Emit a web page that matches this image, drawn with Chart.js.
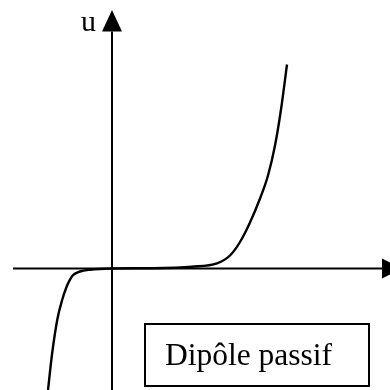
<!DOCTYPE html>
<html>
<head>
<meta charset="utf-8">
<script src="https://cdn.jsdelivr.net/npm/chart.js@4"></script>
<style>
  html, body { margin:0; padding:0; background:#fff; }
  #wrap { position:relative; width:390px; height:390px; overflow:hidden; }
  #chart { position:absolute; left:0; top:0; }
  .lbl { position:absolute; font-family:"Liberation Serif","DejaVu Serif",serif; color:#000; white-space:nowrap; }
  #ulabel { left:81px; top:4px; font-size:30px; }
  #box { left:144px; top:323px; width:203px; height:60px; border:2px solid #000; font-size:31.5px; line-height:60px; padding-left:19px; box-sizing:content-box; }
</style>
</head>
<body>
<div id="wrap">
  <canvas id="chart" width="390" height="390"></canvas>
  <div class="lbl" id="ulabel">u</div>
  <div class="lbl" id="box">Dipôle passif</div>
</div>
<script>
// characteristic u = f(i) (arbitrary units)
const curI = [-6.4, -6.0, -5.47, -5.0, -4.53, -4.2, -3.9, -3.2, -2.2, 0,
              4.0, 8.0, 10.5, 11.8, 12.8, 13.8, 14.8, 15.6, 16.3, 16.9, 17.5];
const volU = [-12.15, -8.6, -5.1, -3.2, -1.8, -1.12, -0.67, -0.3, -0.12, 0,
              0.03, 0.18, 0.52, 1.3, 2.65, 4.6, 7.0, 9.3, 12.3, 15.9, 20.4];

// axis extents (same units)
const xRange = [-11.2, 27.8];
const yRange = [-12.15, 26.85];
const xAxisStart = -9.9, xArrowBase = 27.0, xArrowTip = 29.0;
const yArrowBase = 23.7, yArrowTip = 25.85;

const axesPlugin = {
  id: 'axes',
  beforeDatasetsDraw(chart){
    const {ctx, scales:{x, y}} = chart;
    const x0 = x.getPixelForValue(0), y0 = y.getPixelForValue(0);
    ctx.save();
    ctx.strokeStyle = '#000'; ctx.fillStyle = '#000'; ctx.lineWidth = 2;
    // horizontal axis
    ctx.beginPath();
    ctx.moveTo(x.getPixelForValue(xAxisStart), y0);
    ctx.lineTo(x.getPixelForValue(xArrowBase), y0);
    ctx.stroke();
    const hb = x.getPixelForValue(xArrowBase), ht = x.getPixelForValue(xArrowTip);
    ctx.beginPath();
    ctx.moveTo(hb, y0 - 10); ctx.lineTo(ht, y0); ctx.lineTo(hb, y0 + 10); ctx.closePath(); ctx.fill();
    // vertical axis
    ctx.beginPath();
    ctx.moveTo(x0, y.getPixelForValue(yRange[0]));
    ctx.lineTo(x0, y.getPixelForValue(yArrowBase));
    ctx.stroke();
    const vb = y.getPixelForValue(yArrowBase), vt = y.getPixelForValue(yArrowTip);
    ctx.beginPath();
    ctx.moveTo(x0 - 10, vb); ctx.lineTo(x0, vt); ctx.lineTo(x0 + 10, vb); ctx.closePath(); ctx.fill();
    ctx.restore();
  }
};

new Chart(document.getElementById('chart').getContext('2d'), {
  type: 'scatter',
  data: {
    datasets: [{
      data: curI.map((v, k) => ({x: v, y: volU[k]})),
      showLine: true,
      borderColor: '#000',
      borderWidth: 2.4,
      pointRadius: 0,
      cubicInterpolationMode: 'monotone',
      fill: false
    }]
  },
  options: {
    responsive: false,
    animation: false,
    layout: { padding: 0 },
    plugins: { legend: { display: false }, tooltip: { enabled: false } },
    scales: {
      x: { type: 'linear', display: false, min: xRange[0], max: xRange[1] },
      y: { type: 'linear', display: false, min: yRange[0], max: yRange[1] }
    }
  },
  plugins: [axesPlugin]
});
</script>
</body>
</html>
